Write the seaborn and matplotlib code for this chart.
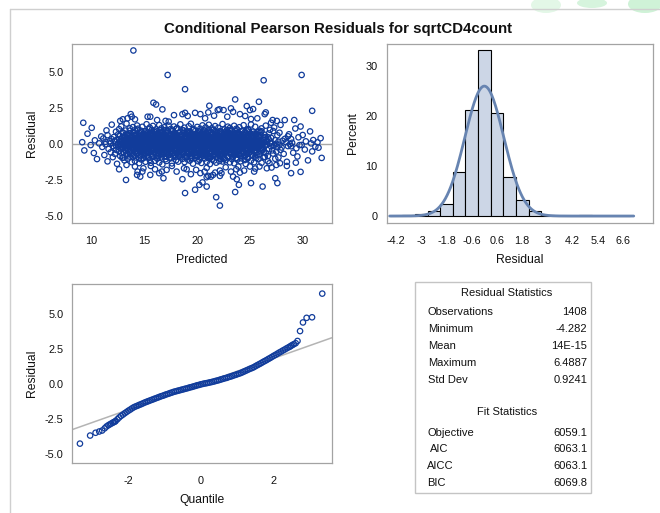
import numpy as np
import pandas as pd
import matplotlib
matplotlib.use("Agg")
import matplotlib.pyplot as plt
import seaborn as sns
from matplotlib.patches import Rectangle, Ellipse
from matplotlib.lines import Line2D
from statistics import NormalDist

# ---------------------------------------------------------------- data
title = "Conditional Pearson Residuals for sqrtCD4count"

# residuals vs predicted: bulk of the cloud
core_predicted = [
    9.1, 9.3, 9.6, 9.9,
    10.0, 10.2, 10.3, 10.5, 10.7, 10.9,
    11.0, 11.1, 11.2, 11.3, 11.3, 11.4, 11.5, 11.5, 11.6, 11.7, 11.8, 11.8, 11.9, 11.9,
    12.0, 12.0, 12.1, 12.1, 12.2, 12.2, 12.3, 12.3, 12.3, 12.4, 12.4, 12.5, 12.5, 12.5,
    12.6, 12.6, 12.6, 12.7, 12.7, 12.7, 12.8, 12.8, 12.8, 12.9, 12.9, 12.9,
    13.0, 13.0, 13.0, 13.0, 13.1, 13.1, 13.1, 13.1, 13.2, 13.2, 13.2, 13.2, 13.3, 13.3, 13.3, 13.3,
    13.4, 13.4, 13.4, 13.4, 13.5, 13.5, 13.5, 13.5, 13.6, 13.6, 13.6, 13.6, 13.7, 13.7, 13.7, 13.7,
    13.8, 13.8, 13.8, 13.8, 13.9, 13.9, 13.9, 13.9,
    14.0, 14.0, 14.0, 14.0, 14.0, 14.1, 14.1, 14.1, 14.1, 14.1, 14.2, 14.2, 14.2, 14.2, 14.2,
    14.3, 14.3, 14.3, 14.3, 14.3, 14.4, 14.4, 14.4, 14.4, 14.4, 14.5, 14.5, 14.5, 14.5, 14.5,
    14.6, 14.6, 14.6, 14.6, 14.6, 14.7, 14.7, 14.7, 14.7, 14.7, 14.8, 14.8, 14.8, 14.8, 14.8,
    14.9, 14.9, 14.9, 14.9, 14.9,
    15.0, 15.0, 15.0, 15.0, 15.0, 15.1, 15.1, 15.1, 15.1, 15.1, 15.2, 15.2, 15.2, 15.2, 15.2,
    15.3, 15.3, 15.3, 15.3, 15.3, 15.4, 15.4, 15.4, 15.4, 15.4, 15.4, 15.5, 15.5, 15.5, 15.5, 15.5,
    15.6, 15.6, 15.6, 15.6, 15.6, 15.7, 15.7, 15.7, 15.7, 15.7, 15.8, 15.8, 15.8, 15.8, 15.8, 15.8,
    15.9, 15.9, 15.9, 15.9, 15.9,
    16.0, 16.0, 16.0, 16.0, 16.0, 16.1, 16.1, 16.1, 16.1, 16.1, 16.2, 16.2, 16.2, 16.2, 16.2, 16.2,
    16.3, 16.3, 16.3, 16.3, 16.3, 16.4, 16.4, 16.4, 16.4, 16.4, 16.5, 16.5, 16.5, 16.5, 16.5, 16.5,
    16.6, 16.6, 16.6, 16.6, 16.6, 16.7, 16.7, 16.7, 16.7, 16.7, 16.7, 16.8, 16.8, 16.8, 16.8, 16.8,
    16.9, 16.9, 16.9, 16.9, 16.9, 16.9,
    17.0, 17.0, 17.0, 17.0, 17.0, 17.1, 17.1, 17.1, 17.1, 17.1, 17.2, 17.2, 17.2, 17.2, 17.2,
    17.3, 17.3, 17.3, 17.3, 17.3, 17.4, 17.4, 17.4, 17.4, 17.4, 17.5, 17.5, 17.5, 17.5, 17.5,
    17.6, 17.6, 17.6, 17.6, 17.6, 17.7, 17.7, 17.7, 17.7, 17.7, 17.8, 17.8, 17.8, 17.8, 17.8,
    17.9, 17.9, 17.9, 17.9, 17.9,
    18.0, 18.0, 18.0, 18.0, 18.0, 18.1, 18.1, 18.1, 18.1, 18.2, 18.2, 18.2, 18.2, 18.2,
    18.3, 18.3, 18.3, 18.3, 18.3, 18.4, 18.4, 18.4, 18.4, 18.5, 18.5, 18.5, 18.5, 18.5,
    18.6, 18.6, 18.6, 18.6, 18.7, 18.7, 18.7, 18.7, 18.7, 18.8, 18.8, 18.8, 18.8, 18.8,
    18.9, 18.9, 18.9, 18.9,
    19.0, 19.0, 19.0, 19.0, 19.0, 19.1, 19.1, 19.1, 19.1, 19.1, 19.2, 19.2, 19.2, 19.2, 19.2,
    19.3, 19.3, 19.3, 19.3, 19.3, 19.4, 19.4, 19.4, 19.4, 19.4, 19.5, 19.5, 19.5, 19.5, 19.5,
    19.6, 19.6, 19.6, 19.6, 19.6, 19.7, 19.7, 19.7, 19.7, 19.7, 19.8, 19.8, 19.8, 19.8, 19.8,
    19.9, 19.9, 19.9, 19.9, 19.9,
    20.0, 20.0, 20.0, 20.0, 20.0, 20.1, 20.1, 20.1, 20.1, 20.1, 20.1, 20.2, 20.2, 20.2, 20.2, 20.2, 20.2,
    20.3, 20.3, 20.3, 20.3, 20.3, 20.3, 20.4, 20.4, 20.4, 20.4, 20.4, 20.4, 20.5, 20.5, 20.5, 20.5, 20.5, 20.5,
    20.6, 20.6, 20.6, 20.6, 20.6, 20.6, 20.7, 20.7, 20.7, 20.7, 20.7, 20.7, 20.8, 20.8, 20.8, 20.8, 20.8, 20.8,
    20.9, 20.9, 20.9, 20.9, 20.9,
    21.0, 21.0, 21.0, 21.0, 21.0, 21.0, 21.1, 21.1, 21.1, 21.1, 21.1, 21.1, 21.2, 21.2, 21.2, 21.2, 21.2, 21.2,
    21.3, 21.3, 21.3, 21.3, 21.3, 21.3, 21.4, 21.4, 21.4, 21.4, 21.4, 21.4, 21.5, 21.5, 21.5, 21.5, 21.5, 21.5,
    21.6, 21.6, 21.6, 21.6, 21.6, 21.6, 21.7, 21.7, 21.7, 21.7, 21.7, 21.7, 21.8, 21.8, 21.8, 21.8, 21.8, 21.8,
    21.9, 21.9, 21.9, 21.9, 21.9, 21.9,
    22.0, 22.0, 22.0, 22.0, 22.0, 22.0, 22.1, 22.1, 22.1, 22.1, 22.1, 22.1, 22.2, 22.2, 22.2, 22.2, 22.2,
    22.3, 22.3, 22.3, 22.3, 22.3, 22.3, 22.4, 22.4, 22.4, 22.4, 22.4, 22.4, 22.5, 22.5, 22.5, 22.5, 22.5, 22.5,
    22.6, 22.6, 22.6, 22.6, 22.6, 22.6, 22.7, 22.7, 22.7, 22.7, 22.7, 22.8, 22.8, 22.8, 22.8, 22.8, 22.8,
    22.9, 22.9, 22.9, 22.9, 22.9, 22.9,
    23.0, 23.0, 23.0, 23.0, 23.0, 23.1, 23.1, 23.1, 23.1, 23.1, 23.1, 23.2, 23.2, 23.2, 23.2, 23.2,
    23.3, 23.3, 23.3, 23.3, 23.3, 23.3, 23.4, 23.4, 23.4, 23.4, 23.4, 23.5, 23.5, 23.5, 23.5, 23.5,
    23.6, 23.6, 23.6, 23.6, 23.6, 23.6, 23.7, 23.7, 23.7, 23.7, 23.7, 23.8, 23.8, 23.8, 23.8, 23.8, 23.8,
    23.9, 23.9, 23.9, 23.9, 23.9,
    24.0, 24.0, 24.0, 24.0, 24.0, 24.1, 24.1, 24.1, 24.1, 24.1, 24.2, 24.2, 24.2, 24.2, 24.2,
    24.3, 24.3, 24.3, 24.3, 24.3, 24.4, 24.4, 24.4, 24.4, 24.5, 24.5, 24.5, 24.5, 24.5,
    24.6, 24.6, 24.6, 24.6, 24.6, 24.7, 24.7, 24.7, 24.7, 24.7, 24.8, 24.8, 24.8, 24.8,
    24.9, 24.9, 24.9, 24.9, 24.9,
    25.0, 25.0, 25.0, 25.0, 25.1, 25.1, 25.1, 25.1, 25.2, 25.2, 25.2, 25.2, 25.2,
    25.3, 25.3, 25.3, 25.3, 25.4, 25.4, 25.4, 25.4, 25.5, 25.5, 25.5, 25.5,
    25.6, 25.6, 25.6, 25.6, 25.6, 25.7, 25.7, 25.7, 25.7, 25.8, 25.8, 25.8, 25.8, 25.9, 25.9, 25.9, 25.9,
    26.0, 26.0, 26.0, 26.1, 26.1, 26.1, 26.2, 26.2, 26.2, 26.3, 26.3, 26.3, 26.4, 26.4, 26.4,
    26.5, 26.5, 26.5, 26.6, 26.6, 26.7, 26.7, 26.7, 26.8, 26.8, 26.8, 26.9, 26.9,
    27.0, 27.0, 27.1, 27.1, 27.2, 27.2, 27.3, 27.3, 27.4, 27.4, 27.5, 27.5, 27.6, 27.6, 27.7, 27.7,
    27.8, 27.8, 27.9, 27.9,
    28.0, 28.1, 28.2, 28.3, 28.4, 28.5, 28.6, 28.6, 28.7, 28.8, 28.9, 28.9,
    29.0, 29.1, 29.3, 29.4, 29.5, 29.6, 29.7, 29.8, 29.9,
    30.0, 30.2, 30.3, 30.5, 30.7, 30.8, 30.9,
    31.0, 31.2, 31.4, 31.5, 31.7, 31.8,
]
core_residual = [
    0.12, -0.45, 0.71, -0.08, 1.12, -0.63, 0.25, -1.05, 0.04, 0.52,
    -0.21, 0.38, -0.77, 0.15, -0.02, 0.94, -1.21, 0.61, -0.35, 0.19,
    0.07, -0.58, 0.33, 1.34, -0.14, -0.92, 0.48, -0.27, 0.22, -0.69,
    -0.11, 0.85, -0.41, 0.29, -1.38, 0.02, 0.66, -0.18, 1.03, -0.52,
    0.31, -0.06, -0.84, 0.57, 0.16, -0.33, 1.22, -0.97, -0.24, 0.44,
    -0.15, 0.09, 0.77, -0.61, 0.26, -1.14, 0.41, -0.03, 0.93, -0.47,
    0.18, -0.29, 0.58, -0.72, 1.41, 0.05, -0.38, -0.12, 0.67, -1.02,
    -0.05, 0.34, -0.55, 0.21, -0.88, 0.74, -0.19, 1.09, 0.11, -0.43,
    0.27, -0.66, 0.13, -1.27, 0.49, -0.09, 0.82, -0.31, 0.03, 1.17,
    -0.36, 0.55, -0.01, -0.79, 0.23, 0.96, -0.51, 0.14, -1.19, 0.39,
    0.08, -0.22, 0.63, -0.94, 0.17, -0.48, 1.28, 0.36, -0.13, -0.71,
    0.45, -0.04, -0.62, 0.28, 1.06, -0.26, -1.33, 0.53, 0.10, -0.37,
    -0.17, 0.72, -0.44, 0.01, -0.86, 0.32, 0.91, -0.07, -1.08, 0.59,
    0.24, -0.53, 0.06, 1.19, -0.28, -0.74, 0.47, -0.16, 0.69, -0.99,
    -0.09, 0.42, -0.68, 0.19, 0.87, -1.24, 0.13, -0.39, 0.62, 0.00,
    0.35, -0.12, -0.57, 1.37, -0.23, 0.78, -0.81, 0.09, -0.46, 0.26,
    -0.31, 0.16, 0.54, -0.96, 0.04, -0.64, 1.14, -0.19, 0.73, -1.11,
    0.11, -0.41, 0.29, -0.06, -1.31, 0.65, 0.98, -0.52, 0.21, -0.25,
    -0.02, 0.58, -0.73, 0.37, 0.14, -0.89, 1.25, -0.34, -0.11, 0.46,
    0.23, -0.18, 0.81, -0.59, -1.17, 0.07, 0.39, -0.42, 1.01, -0.08,
    -0.27, 0.12, -0.49, 0.68, 0.31, -1.02, 0.88, -0.14, 0.05, -0.66,
    0.40, -0.07, -0.83, 0.22, 1.31, -0.35, 0.59, -1.29, -0.20, 0.15,
    0.02, -0.61, 0.44, -0.13, 0.76, -0.93, 0.18, 1.08, -0.38, -0.04,
    -0.19, 0.33, -0.70, 0.10, -1.42, 0.57, 0.95, -0.24, 0.28, -0.54,
    0.14, -0.32, 0.66, -0.87, 0.03, 1.16, -0.45, 0.20, -1.06, 0.48,
    -0.08, 0.51, -0.21, 0.79, -0.60, -1.18, 0.25, 0.89, -0.30, 0.06,
    0.30, -0.15, -0.76, 0.43, 1.27, -0.40, 0.11, -0.95, 0.64, -0.01,
    -0.23, 0.19, 0.70, -0.56, -0.10, 1.04, -1.35, 0.37, 0.08, -0.47,
    0.17, -0.64, 0.35, -0.05, 0.92, -0.82, 0.27, -0.18, 1.21, -0.39,
    -0.12, 0.47, -0.91, 0.09, -0.33, 0.74, -1.13, 0.56, 0.01, 0.24,
    0.05, -0.37, 0.61, -0.67, 1.10, 0.18, -0.26, -1.23, 0.42, -0.09,
    0.38, -0.20, -0.52, 0.26, -0.85, 0.83, 0.12, -0.44, 1.36, -0.03,
    -0.14, 0.60, 0.04, -0.78, 0.32, -1.04, 0.97, -0.29, 0.15, -0.58,
    0.21, -0.47, 0.75, -0.11, -1.26, 0.50, 0.07, 1.13, -0.36, -0.16,
    -0.04, 0.29, -0.65, 0.13, 0.86, -0.90, 0.40, -0.22, -1.09, 0.63,
    0.26, -0.10, -0.71, 1.23, 0.02, -0.50, 0.55, -0.31, 0.80, -1.16,
    -0.20, 0.36, 0.09, -0.83, 0.67, -0.03, 1.40, -0.42, -0.97, 0.16,
    0.10, -0.56, 0.46, -0.19, -1.37, 0.71, 0.22, -0.07, 1.02, -0.34,
    -0.29, 0.20, -0.60, 0.52, 0.06, -0.98, 0.89, 0.31, -0.13, -0.75,
    0.33, -0.01, -0.88, 0.15, 1.18, -0.27, 0.64, -1.20, -0.40, 0.08,
    -0.06, 0.44, -0.36, 0.87, -0.72, 0.13, -1.10, 0.30, 0.02, 1.06,
    0.19, -0.25, 0.58, -0.95, -0.12, 0.69, 0.35, -1.32, 0.04, -0.44,
    -0.33, 0.07, 0.79, -0.53, 1.29, -0.16, 0.24, -0.81, -0.02, 0.50,
    0.12, -0.70, 0.41, 0.03, -1.01, 0.93, -0.23, 0.60, -0.45, 0.17,
    -0.18, 0.27, -0.62, 1.15, 0.09, -0.86, 0.52, -0.08, -1.25, 0.34,
    0.06, -0.39, 0.85, -0.14, 0.21, -0.73, 1.33, -0.28, 0.46, -0.99,
    -0.24, 0.53, -0.05, -0.92, 0.38, 0.14, -1.40, 0.77, -0.17, 0.01,
    0.29, -0.13, -0.58, 0.66, 1.09, -0.37, 0.18, -1.07, 0.03, -0.50,
    -0.07, 0.40, -0.81, 0.23, -0.30, 0.97, -0.12, 0.57, -1.15, 0.11,
    0.16, -0.48, 0.30, -0.02, 1.24, -0.69, 0.08, -0.21, 0.73, -1.30,
    -0.16, 0.62, -0.43, 0.12, -0.94, 0.36, 0.84, -0.09, 0.00, -0.63,
    0.37, -0.28, 0.05, -0.75, 1.12, 0.22, -0.54, -1.19, 0.59, -0.11,
    -0.01, 0.19, -0.67, 0.48, -0.15, 0.90, -1.03, 0.27, -0.35, 0.70,
    0.22, -0.52, 0.14, -0.09, 1.38, -0.80, 0.45, -0.24, -1.22, 0.32,
    -0.26, 0.09, 0.67, -0.40, 0.03, -0.99, 0.79, 1.01, -0.18, -0.57,
    0.13, -0.34, 0.50, -0.61, -1.13, 0.28, 0.06, -0.12, 0.96, -0.46,
    -0.10, 0.56, -0.27, 0.17, 0.83, -0.86, -0.04, 1.20, -0.41, 0.35,
    0.04, -0.60, 0.39, -1.28, 0.25, -0.16, 0.72, -0.32, 1.11, -0.07,
    -0.35, 0.14, -0.74, 0.60, 0.01, 0.91, -0.45, -1.06, 0.20, 0.47,
    0.28, -0.06, 0.45, -0.89, -0.20, 1.26, -0.53, 0.10, -1.34, 0.62,
    -0.13, 0.31, -0.50, 0.04, 0.76, -0.70, 0.18, -0.25, 1.05, -0.97,
    0.09, -0.44, 0.63, -0.17, -1.09, 0.41, 0.99, -0.02, -0.60, 0.23,
    -0.22, 0.48, 0.02, -0.79, 0.34, -0.36, 1.16, -1.21, 0.11, 0.68,
    0.32, -0.09, -0.66, 0.20, 0.88, -0.11, -1.00, 0.54, -0.30, 0.07,
    -0.03, 0.25, -0.55, 1.30, -0.19, 0.61, -0.85, 0.15, 0.42, -1.12,
    0.18, -0.31, 0.74, -0.46, 0.05, -1.39, 0.37, -0.14, 0.94, -0.68,
    -0.28, 0.03, 0.52, -0.93, 1.03, -0.08, 0.26, -0.59, -0.15, 0.80,
    0.07, -0.42, -0.10, 0.69, -1.16, 0.33, 0.13, 1.35, -0.77, -0.23,
    -0.15, 0.58, -0.35, 0.10, -0.82, 0.85, -0.05, 0.44, -1.27, 0.21,
    0.25, -0.63, 0.16, -0.21, 1.19, -0.43, 0.70, -0.98, 0.00, -0.12,
    -0.09, 0.35, -0.76, 0.56, 0.19, -1.05, 0.06, -0.27, 0.92, 0.43,
    0.14, -0.20, 0.82, -0.51, -0.07, 1.08, -1.31, 0.29, -0.38, 0.03,
    -0.30, 0.11, -0.57, 0.39, 0.64, -0.12, -0.90, 1.27, 0.17, -0.64,
    0.20, -0.04, 0.47, -0.84, -1.20, 0.73, 0.30, -0.35, 0.08, 0.98,
    -0.17, 0.43, -0.45, 0.05, 0.90, -0.67, 1.14, -0.10, -1.03, 0.26,
    0.01, -0.53, 0.60, -0.23, -0.94, 0.16, 0.78, -0.06, 1.32, -0.41,
    -0.25, 0.22, -0.69, 0.35, 0.12, -1.24, 0.53, -0.15, 0.67, -0.02,
    0.34, -0.16, 0.08, -0.61, 1.07, -0.30, -0.87, 0.46, -0.08, 1.21,
    -0.07, 0.62, -0.39, 0.18, -1.14, 0.87, 0.04, -0.52, 0.27, -0.19,
    0.11, -0.26, 0.40, -0.97,
]

# residuals vs predicted: the densest middle of the cloud
inner_predicted = [
    12.8, 12.8, 12.9, 12.9, 13.0, 13.0, 13.1, 13.1, 13.2, 13.2, 13.3, 13.3, 13.4, 13.4,
    13.5, 13.5, 13.6, 13.6, 13.7, 13.7, 13.8, 13.8, 13.9, 13.9, 14.0, 14.0, 14.1, 14.1,
    14.2, 14.2, 14.3, 14.3, 14.4, 14.4, 14.5, 14.5, 14.6, 14.6, 14.7, 14.7, 14.8, 14.8,
    14.9, 14.9,
    15.0, 15.0, 15.0, 15.1, 15.1, 15.1, 15.2, 15.2, 15.2, 15.3, 15.3, 15.3, 15.4, 15.4, 15.4,
    15.5, 15.5, 15.5, 15.6, 15.6, 15.6, 15.7, 15.7, 15.7, 15.8, 15.8, 15.8, 15.9, 15.9, 15.9,
    16.0, 16.0, 16.0, 16.1, 16.1, 16.1, 16.2, 16.2, 16.2, 16.3, 16.3, 16.3, 16.4, 16.4, 16.4,
    16.5, 16.5, 16.5, 16.6, 16.6, 16.6, 16.7, 16.7, 16.7, 16.8, 16.8, 16.8, 16.9, 16.9, 16.9,
    17.0, 17.0, 17.0, 17.1, 17.1, 17.1, 17.2, 17.2, 17.2, 17.3, 17.3, 17.3, 17.4, 17.4, 17.4,
    17.5, 17.5, 17.5, 17.6, 17.6, 17.6, 17.7, 17.7, 17.7, 17.8, 17.8, 17.8, 17.9, 17.9, 17.9,
    18.0, 18.0, 18.0, 18.1, 18.1, 18.1, 18.2, 18.2, 18.2, 18.3, 18.3, 18.3, 18.4, 18.4, 18.4,
    18.5, 18.5, 18.5, 18.6, 18.6, 18.6, 18.7, 18.7, 18.7, 18.8, 18.8, 18.8, 18.9, 18.9, 18.9,
    19.0, 19.0, 19.0, 19.1, 19.1, 19.1, 19.2, 19.2, 19.2, 19.3, 19.3, 19.3, 19.4, 19.4, 19.4,
    19.5, 19.5, 19.5, 19.6, 19.6, 19.6, 19.7, 19.7, 19.7, 19.8, 19.8, 19.8, 19.9, 19.9, 19.9,
    20.0, 20.0, 20.0, 20.1, 20.1, 20.1, 20.2, 20.2, 20.2, 20.3, 20.3, 20.3, 20.4, 20.4, 20.4,
    20.5, 20.5, 20.5, 20.6, 20.6, 20.6, 20.7, 20.7, 20.7, 20.8, 20.8, 20.8, 20.9, 20.9, 20.9,
    21.0, 21.0, 21.0, 21.1, 21.1, 21.1, 21.2, 21.2, 21.2, 21.3, 21.3, 21.3, 21.4, 21.4, 21.4,
    21.5, 21.5, 21.5, 21.6, 21.6, 21.6, 21.7, 21.7, 21.7, 21.8, 21.8, 21.8, 21.9, 21.9, 21.9,
    22.0, 22.0, 22.0, 22.1, 22.1, 22.1, 22.2, 22.2, 22.2, 22.3, 22.3, 22.3, 22.4, 22.4, 22.4,
    22.5, 22.5, 22.5, 22.6, 22.6, 22.6, 22.7, 22.7, 22.7, 22.8, 22.8, 22.8, 22.9, 22.9, 22.9,
    23.0, 23.0, 23.0, 23.1, 23.1, 23.1, 23.2, 23.2, 23.2, 23.3, 23.3, 23.3, 23.4, 23.4, 23.4,
    23.5, 23.5, 23.5, 23.6, 23.6, 23.6, 23.7, 23.7, 23.7, 23.8, 23.8, 23.8, 23.9, 23.9, 23.9,
    24.0, 24.0, 24.0, 24.1, 24.1, 24.1, 24.2, 24.2, 24.2, 24.3, 24.3, 24.3, 24.4, 24.4, 24.4,
    24.5, 24.5, 24.5, 24.6, 24.6, 24.6, 24.7, 24.7, 24.7, 24.8, 24.8, 24.8, 24.9, 24.9, 24.9,
    25.0, 25.0, 25.1, 25.1, 25.2, 25.2, 25.3, 25.3, 25.4, 25.4, 25.5, 25.5, 25.6, 25.6,
    25.7, 25.7, 25.8, 25.8, 25.9, 25.9, 26.0, 26.0, 26.1, 26.1, 26.2, 26.2, 26.3, 26.3,
    26.4, 26.4,
]
inner_residual = [
    0.35, -0.62, 0.08, 0.81, -0.27, -0.95, 0.53, -0.11, 0.22, -0.44,
    0.67, -0.05, -0.73, 0.41, 0.14, -0.36, 0.92, -0.58, 0.01, 0.29,
    -0.19, 0.48, -0.87, 0.12, 0.75, -0.31, -0.02, 0.60, -0.66, 0.18,
    0.99, -0.47, 0.25, -0.13, -1.01, 0.37, 0.06, -0.52, 0.84, -0.24,
    0.11, 0.56, -0.39, 0.72, -0.80, 0.03, -0.17, 0.44, -0.61, 0.89,
    -0.08, 0.31, -0.55, 0.16, 0.63, -0.92, 0.24, -0.33, 1.02, -0.04,
    0.46, -0.21, 0.78, -0.69, 0.09, -0.12, 0.38, -0.84, 0.57, -0.28,
    -0.40, 0.20, -0.01, 0.86, -0.57, 0.13, 0.65, -0.76, -0.15, 0.33,
    0.04, -0.35, 0.51, -0.98, 0.27, 0.70, -0.23, 0.10, -0.49, 0.95,
    -0.26, 0.62, -0.07, 0.39, -0.71, -0.18, 0.83, -0.42, 0.19, 0.00,
    0.58, -0.64, 0.15, -0.30, 0.96, -0.09, 0.34, -0.89, 0.47, -0.14,
    -0.53, 0.07, 0.74, -0.20, -0.78, 0.42, 0.23, -0.37, 0.61, -0.96,
    0.17, -0.45, 0.88, 0.02, -0.25, 0.54, -0.67, 0.30, -0.06, 0.71,
    -0.34, 0.26, -0.82, 0.66, 0.12, -0.51, 1.04, -0.16, -0.60, 0.40,
    0.09, -0.74, 0.36, -0.03, 0.80, -0.43, 0.21, -0.93, 0.50, -0.22,
    0.64, -0.10, -0.56, 0.28, -0.29, 0.93, -0.70, 0.05, 0.45, -0.38,
    -0.12, 0.52, 0.00, -0.85, 0.69, -0.48, 0.18, 0.77, -0.24, -0.63,
    0.32, -0.18, 0.85, -0.40, -0.06, 0.60, -0.99, 0.14, 0.37, -0.54,
    -0.71, 0.43, -0.27, 0.08, 0.97, -0.13, -0.46, 0.55, -0.82, 0.24,
    0.19, -0.58, 0.70, -0.32, 0.03, -0.77, 0.49, 0.87, -0.09, -0.35,
    -0.44, 0.11, 0.59, -0.62, 0.27, -0.01, -0.90, 0.36, 0.76, -0.19,
    0.50, -0.28, -0.04, 0.94, -0.53, 0.16, 0.68, -0.41, -0.74, 0.07,
    -0.15, 0.73, -0.67, 0.22, -0.36, 0.46, -0.11, 1.00, -0.87, 0.31,
    0.05, -0.50, 0.40, -0.21, 0.82, -0.94, 0.13, -0.07, 0.58, -0.31,
    0.71, -0.37, -0.80, 0.17, 0.04, -0.59, 0.90, -0.25, 0.34, -0.12,
    -0.58, 0.25, 0.62, -0.16, -0.72, 0.53, -0.03, 0.39, -0.47, 0.85,
    0.14, -0.83, 0.31, 0.79, -0.42, -0.08, 0.57, -0.68, 0.20, -1.03,
    -0.23, 0.66, -0.35, 0.02, 0.47, -0.60, 0.81, -0.14, -0.52, 0.10,
    0.38, -0.07, -0.91, 0.55, -0.19, 0.74, -0.45, 0.23, 0.97, -0.30,
    -0.02, 0.45, -0.64, 0.12, -0.86, 0.33, 0.06, -0.39, 0.68, -0.77,
    0.26, -0.24, 0.89, -0.55, 0.15, -0.05, 0.42, -0.97, -0.13, 0.60,
    -0.49, 0.18, -0.30, 0.75, 0.01, -0.69, 0.35, 0.52, -0.21, -0.84,
    0.63, -0.11, 0.29, -0.44, 0.92, -0.27, -0.62, 0.08, 0.48, -0.17,
    -0.36, 0.80, -0.78, 0.20, -0.09, 0.57, -0.53, 0.13, -1.00, 0.37,
    0.07, -0.65, 0.44, 0.96, -0.32, 0.24, -0.04, -0.75, 0.66, -0.20,
    0.41, -0.16, -0.48, 0.71, 0.10, -0.88, 0.30, -0.26, 0.83, -0.58,
    -0.10, 0.54, -0.70, 0.03, 0.61, -0.34, 0.19, 0.88, -0.43, -0.06,
    0.28, -0.92, 0.47, -0.15,
]

# residuals vs predicted: isolated points away from the cloud
fringe_predicted = [
    13.95, 17.2, 18.85, 26.3, 29.9, 30.9, 29.8, 28.9, 22.15, 21.8,
    23.6, 18.85, 19.8, 20.2, 20.5, 20.9, 13.25, 14.3, 14.6, 14.8,
    15.55, 16.8, 18.6, 20.3, 21.3, 21.5, 25.1, 25.4, 26.2, 26.6,
    27.4, 27.6, 23.6, 25.85, 24.7, 25.0, 25.3, 21.15, 21.95, 22.5,
    23.2, 15.85, 16.1, 16.7, 13.7, 15.3, 16.2, 28.3, 9.2, 12.7,
    12.95, 13.4, 13.8, 14.1, 15.55, 17.0, 17.3, 17.8, 18.6, 18.85,
    19.1, 19.8, 20.3, 20.75, 21.05, 21.6, 22.1, 22.85, 23.4, 24.05,
    24.55, 25.1, 25.7, 26.4, 26.5, 27.0, 27.15, 27.55, 29.2, 12.6,
    13.3, 14.1, 14.35, 14.9, 15.6, 16.0, 16.4, 16.65, 17.1, 17.6,
    18.05, 18.75, 19.0, 19.4, 19.9, 20.7, 20.9, 21.7, 22.15, 22.3,
    22.7, 23.2, 23.7, 23.9, 24.05, 24.45, 25.0, 25.5, 25.9, 26.85,
    27.05, 27.5, 27.85, 28.5, 29.35, 22.15, 23.4, 23.75, 23.95, 20.9,
    21.05,
]
fringe_residual = [
    6.49, 4.79, 3.80, 4.42, 4.79, 2.30, -1.94, -2.03, -4.28, -3.70,
    -3.34, -3.41, -3.18, -2.84, -2.67, -2.96, -2.50, -2.15, -2.27, -1.92,
    -2.15, -2.38, -2.45, -2.03, -2.27, -2.15, -2.72, -1.92, -2.96, -1.69,
    -2.38, -2.72, 3.09, 2.93, 2.63, 2.35, 2.42, 2.65, 2.35, 2.35,
    2.47, 2.86, 2.74, 2.40, 2.07, 1.89, 1.66, 1.66, 1.47, 1.60,
    1.71, 1.78, 1.89, 1.71, 1.89, 1.60, 1.55, 2.00, 2.07, 2.16,
    1.94, 2.16, 2.07, 1.78, 2.19, 1.96, 2.40, 1.89, 2.23, 2.07,
    1.94, 1.73, 1.78, 2.07, 2.19, 1.47, 1.66, 1.60, 1.66, -1.76,
    -1.46, -1.57, -1.92, -1.69, -1.53, -1.76, -2.03, -1.92, -1.80, -1.53,
    -1.92, -1.69, -1.76, -2.10, -1.80, -1.92, -1.66, -1.99, -1.85, -2.03,
    -1.62, -1.92, -1.76, -1.57, -1.99, -1.85, -1.57, -1.71, -1.57, -1.34,
    -1.64, -1.46, -1.34, -1.53, -1.30, -2.22, -2.27, -2.45, -2.84, -2.31,
    -2.22,
]

# histogram: bin midpoints (width 0.6) and percent of observations
hist_mid = [-4.2, -3.6, -3.0, -2.4, -1.8, -1.2, -0.6, 0.0, 0.6,
            1.2, 1.8, 2.4, 3.0, 3.6, 4.2, 4.8, 6.6]
hist_pct = [0.07, 0.2, 0.4, 0.93, 2.3, 8.7, 21.2, 33.2, 20.6,
            7.7, 3.2, 1.07, 0.14, 0.07, 0.07, 0.14, 0.07]
hist_tick_values = [-4.2, -3.0, -1.8, -0.6, 0.6, 1.8, 3.0, 4.2, 5.4, 6.6]
hist_tick_labels = ["-4.2", "-3", "-1.8", "-0.6", "0.6", "1.8", "3", "4.2", "5.4", "6.6"]

# normal quantile plot: quantile and ordered residual
qq_quantile = [
    -3.33, -3.05, -2.90, -2.80, -2.72, -2.65, -2.60, -2.55, -2.51, -2.47, -2.43, -2.40, -2.37,
    -2.35, -2.30, -2.25, -2.20, -2.15, -2.10, -2.05, -2.00, -1.95, -1.90,
    -1.85, -1.80, -1.75, -1.70, -1.65, -1.60, -1.55, -1.50, -1.45, -1.40,
    -1.35, -1.30, -1.25, -1.20, -1.15, -1.10, -1.05, -1.00, -0.95, -0.90,
    -0.85, -0.80, -0.75, -0.70, -0.65, -0.60, -0.55, -0.50, -0.45, -0.40,
    -0.35, -0.30, -0.25, -0.20, -0.15, -0.10, -0.05, 0.00, 0.05, 0.10,
    0.15, 0.20, 0.25, 0.30, 0.35, 0.40, 0.45, 0.50, 0.55, 0.60,
    0.65, 0.70, 0.75, 0.80, 0.85, 0.90, 0.95, 1.00, 1.05, 1.10,
    1.15, 1.20, 1.25, 1.30, 1.35, 1.40, 1.45, 1.50, 1.55, 1.60,
    1.65, 1.70, 1.75, 1.80, 1.85, 1.90, 1.95, 2.00, 2.05, 2.10,
    2.15, 2.20, 2.25, 2.30, 2.35,
    2.40, 2.44, 2.47, 2.51, 2.55, 2.60, 2.65, 2.72, 2.80, 2.90, 3.05, 3.33,
]
qq_residual = [
    -4.28, -3.70, -3.50, -3.41, -3.34, -3.18, -3.05, -2.96, -2.90, -2.84, -2.78, -2.74, -2.70,
    -2.66, -2.53, -2.40, -2.29, -2.20, -2.10, -2.01, -1.92, -1.84, -1.75,
    -1.67, -1.61, -1.56, -1.50, -1.45, -1.39, -1.33, -1.28, -1.23, -1.18,
    -1.13, -1.08, -1.03, -0.98, -0.93, -0.88, -0.84, -0.79, -0.74, -0.70,
    -0.65, -0.61, -0.56, -0.53, -0.49, -0.46, -0.42, -0.39, -0.35, -0.32,
    -0.28, -0.24, -0.21, -0.17, -0.13, -0.09, -0.06, -0.02, 0.01, 0.04,
    0.06, 0.09, 0.12, 0.15, 0.18, 0.22, 0.25, 0.29, 0.33, 0.37,
    0.41, 0.44, 0.49, 0.53, 0.57, 0.62, 0.66, 0.71, 0.75, 0.80,
    0.86, 0.92, 0.98, 1.04, 1.10, 1.15, 1.21, 1.29, 1.36, 1.43,
    1.50, 1.58, 1.65, 1.72, 1.80, 1.87, 1.95, 2.03, 2.10, 2.18,
    2.26, 2.33, 2.41, 2.48, 2.56,
    2.63, 2.68, 2.74, 2.80, 2.86, 2.93, 3.09, 3.80, 4.42, 4.75, 4.79, 6.49,
]

# summary tables
resid_stat_labels = ["Observations", "Minimum", "Mean", "Maximum", "Std Dev"]
resid_stat_values = ["1408", "-4.282", "14E-15", "6.4887", "0.9241"]
fit_stat_labels = ["Objective", "AIC", "AICC", "BIC"]
fit_stat_values = ["6059.1", "6063.1", "6063.1", "6069.8"]
resid_mean = 14e-15
resid_std = 0.9241
bin_width = 0.6

# ---------------------------------------------------------------- style
sns.set_style("white")
plt.rcParams["font.family"] = ["Liberation Sans", "DejaVu Sans"]
plt.rcParams["axes.unicode_minus"] = False

BLUE = "#113C9B"
FRAME = "#A3A3A3"
TEXT = "#111111"
BAR_FILL = "#CCD6E6"
CURVE = "#6784B1"
REF = "#A8A8A8"

W, H = 660, 513
fig = plt.figure(figsize=(W / 100, H / 100), dpi=100)
fig.patch.set_facecolor("white")


def box(l, t, r, b):
    return [l / W, 1 - b / H, (r - l) / W, (b - t) / H]


def fx(x):
    return x / W


def fy(y):
    return 1 - y / H


def style_axes(ax):
    for s in ax.spines.values():
        s.set_color(FRAME)
        s.set_linewidth(0.9)
    ax.tick_params(axis="both", which="both", direction="out", length=3.5,
                   width=0.8, color=FRAME, labelsize=7.8, labelcolor=TEXT)
    ax.tick_params(axis="x", pad=6.0)
    ax.tick_params(axis="y", pad=3.0)
    ax.xaxis.label.set_size(8.7)
    ax.yaxis.label.set_size(8.7)
    ax.xaxis.label.set_color(TEXT)
    ax.yaxis.label.set_color(TEXT)
    ax.grid(False)


marker_kw = dict(marker="o", s=15, facecolor="none", edgecolor=BLUE, linewidth=0.9)

# ---------------------------------------------------------------- residual vs predicted
n_core = min(len(core_predicted), len(core_residual))
n_inner = min(len(inner_predicted), len(inner_residual))
scatter_df = pd.DataFrame({
    "Predicted": list(core_predicted[:n_core]) + list(inner_predicted[:n_inner])
    + list(fringe_predicted),
    "Residual": list(core_residual[:n_core]) + list(inner_residual[:n_inner])
    + list(fringe_residual),
})
ax1 = fig.add_axes(box(72.3, 44, 331.7, 222.7))
ax1.axhline(0, color=REF, linewidth=1.0, zorder=1)
sns.scatterplot(data=scatter_df, x="Predicted", y="Residual", ax=ax1, zorder=2, **marker_kw)
ax1.set_xlim(8.16, 32.75)
ax1.set_ylim(-5.47, 6.94)
ax1.set_xticks([10, 15, 20, 25, 30])
ax1.set_yticks([-5, -2.5, 0, 2.5, 5])
ax1.set_yticklabels(["-5.0", "-2.5", "0.0", "2.5", "5.0"])
ax1.set_xlabel("Predicted", labelpad=5.5)
ax1.set_ylabel("Residual", labelpad=4.5)
style_axes(ax1)

# ---------------------------------------------------------------- histogram
ax2 = fig.add_axes(box(386.7, 44, 652.7, 222.7))
hist_df = pd.DataFrame({"Residual": hist_mid, "Percent": hist_pct})
sns.histplot(data=hist_df, x="Residual", weights="Percent", binwidth=bin_width,
             binrange=(-4.5, 6.9), stat="count", ax=ax2, color=BAR_FILL,
             edgecolor="black", linewidth=0.8, alpha=1.0)
dist = NormalDist(resid_mean, resid_std)
curve_x = np.linspace(-4.5, 7.1, 400)
curve_y = [100 * bin_width * dist.pdf(v) for v in curve_x]
sns.lineplot(x=curve_x, y=curve_y, ax=ax2, color=CURVE, linewidth=2.0)
ax2.set_xlim(-4.64, 8.0)
ax2.set_ylim(-1.33, 34.3)
ax2.set_xticks(hist_tick_values)
ax2.set_xticklabels(hist_tick_labels)
ax2.set_yticks([0, 10, 20, 30])
ax2.set_xlabel("Residual", labelpad=5.5)
ax2.set_ylabel("Percent", labelpad=4.5)
style_axes(ax2)

# ---------------------------------------------------------------- normal quantile plot
ax3 = fig.add_axes(box(72.3, 284, 331.7, 462.7))
qq_df = pd.DataFrame({"Quantile": qq_quantile, "Residual": qq_residual})
line_x = np.array([-3.54, 3.59])
sns.lineplot(x=line_x, y=resid_mean + resid_std * line_x, ax=ax3, color="#B4B4B4",
             linewidth=1.1, zorder=1)
sns.scatterplot(data=qq_df, x="Quantile", y="Residual", ax=ax3, zorder=2, **marker_kw)
ax3.set_xlim(-3.54, 3.59)
ax3.set_ylim(-5.65, 7.18)
ax3.set_xticks([-2, 0, 2])
ax3.set_yticks([-5, -2.5, 0, 2.5, 5])
ax3.set_yticklabels(["-5.0", "-2.5", "0.0", "2.5", "5.0"])
ax3.set_xlabel("Quantile", labelpad=5.5)
ax3.set_ylabel("Residual", labelpad=4.5)
style_axes(ax3)

# ---------------------------------------------------------------- statistics table
fig.add_artist(Rectangle((fx(415), fy(493)), (591 - 415) / W, (493 - 282) / H,
                         transform=fig.transFigure, facecolor="white",
                         edgecolor="#C4C4C4", linewidth=1.0))
tsize = 8.0
fig.text(fx(507), fy(292.7), "Residual Statistics", ha="center", va="center",
         fontsize=tsize, color=TEXT)
for i, (lab, val) in enumerate(zip(resid_stat_labels, resid_stat_values)):
    y = 312.3 + i * 16.9
    fig.text(fx(428), fy(y), lab, ha="left", va="center", fontsize=tsize, color=TEXT)
    fig.text(fx(587), fy(y), val, ha="right", va="center", fontsize=tsize, color=TEXT)
fig.text(fx(507), fy(411.7), "Fit Statistics", ha="center", va="center",
         fontsize=tsize, color=TEXT)
fit_x = [428, 430, 426.7, 426.7]
for i, (lab, val) in enumerate(zip(fit_stat_labels, fit_stat_values)):
    y = 432.7 + i * 16.67
    fig.text(fx(fit_x[i]), fy(y), lab, ha="left", va="center", fontsize=tsize, color=TEXT)
    fig.text(fx(587), fy(y), val, ha="right", va="center", fontsize=tsize, color=TEXT)

# ---------------------------------------------------------------- title and frame
fig.text(fx(337.5), fy(29), title, ha="center", va="center", fontsize=10.8,
         fontweight="bold", color=TEXT)
for (x0, y0, x1, y1) in [(10, 9, 662, 9), (10, 9, 10, 515)]:
    fig.add_artist(Line2D([fx(x0), fx(x1)], [fy(y0), fy(y1)], transform=fig.transFigure,
                          color="#CFCFCF", linewidth=1.0))

# faint green marks along the top right edge
for (cx, cy, w, h, c) in [(546, 5, 30, 16, "#E3F7E7"), (592, 3, 30, 10, "#D6F4DD"),
                          (645, 4, 34, 18, "#CFF2D7")]:
    fig.add_artist(Ellipse((fx(cx), fy(cy)), w / W, h / H, transform=fig.transFigure,
                           facecolor=c, edgecolor="none", zorder=0))

fig.savefig("out.png", dpi=100, facecolor="white")
